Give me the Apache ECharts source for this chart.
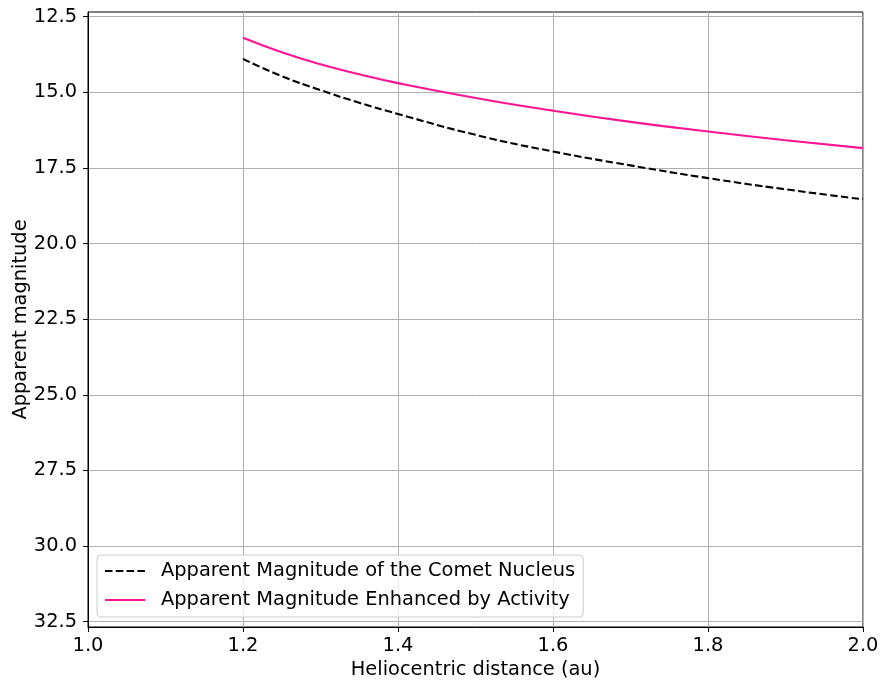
<!DOCTYPE html>
<html lang="en">
<head>
    <meta charset="UTF-8">
    <title>Apparent magnitude vs heliocentric distance</title>
    <script src="https://cdn.jsdelivr.net/npm/echarts@6/dist/echarts.min.js"></script>
    <style>
        * {
            margin: 0;
            padding: 0
        }

        html, body {
            width: 100%;
            height: 100%;
            background: #fff;
        }

        #main {
            width: 888px;
            height: 690px;
        }
    </style>
</head>
<body>
<div id="main"></div>
<script type="text/javascript">
    // heliocentric distance (au)
    var distances = [1.2, 1.25, 1.3, 1.35, 1.4, 1.5, 1.6, 1.7, 1.8, 1.9, 2.0];
    // nucleus only
    var nucleusMag = [13.90, 14.47, 14.93, 15.35, 15.72, 16.41, 16.96, 17.42, 17.84, 18.21, 18.54];
    // with activity
    var activeMag = [13.20, 13.68, 14.08, 14.41, 14.70, 15.19, 15.61, 15.98, 16.30, 16.59, 16.85];
    var magTicks = [12.5, 15.0, 17.5, 20.0, 22.5, 25.0, 27.5, 30.0, 32.5];

    var seriesNames = ['Apparent Magnitude of the Comet Nucleus', 'Apparent Magnitude Enhanced by Activity'];

    function pairs(xs, ys) {
        return xs.map(function (x, i) { return [x, ys[i]]; });
    }

    var font = 'DejaVu Sans';
    var fs = 19.4;
    var gridColor = '#b0b0b0';

    var chart = echarts.init(document.getElementById('main'));
    chart.setOption({
        animation: false,
        backgroundColor: '#fff',
        textStyle: {fontFamily: font},
        grid: {
            left: 88, right: 25, top: 12, bottom: 63,
            outerBoundsMode: 'none',
            containLabel: false,
            show: true, borderColor: '#000', borderWidth: 1
        },
        legend: {
            orient: 'vertical',
            left: 97,
            top: 555,
            padding: [5, 8, 6, 7],
            itemGap: 7,
            itemWidth: 40,
            itemHeight: 14,
            backgroundColor: 'rgba(255,255,255,0.8)',
            borderColor: '#cccccc',
            borderWidth: 1,
            borderRadius: 4,
            // hide the marker dot, keep the line
            itemStyle: {color: 'rgba(0,0,0,0)', borderColor: 'rgba(0,0,0,0)', borderWidth: 0},
            textStyle: {
                fontFamily: font, fontSize: fs, color: '#000',
                lineHeight: 22, padding: [0, 0, 0, 11]
            },
            data: seriesNames
        },
        xAxis: {
            type: 'value',
            min: 1.0,
            max: 2.0,
            interval: 0.2,
            name: 'Heliocentric distance (au)',
            nameLocation: 'middle',
            nameGap: 33,
            nameMoveOverlap: false,
            nameTextStyle: {fontFamily: font, fontSize: fs, color: '#000'},
            axisLine: {show: true, lineStyle: {color: '#000', width: 1}},
            axisTick: {show: true, inside: false, length: 5, lineStyle: {color: '#000'}},
            axisLabel: {
                fontFamily: font, fontSize: fs, color: '#000', margin: 9,
                formatter: function (v) { return v.toFixed(1); }
            },
            splitLine: {show: true, lineStyle: {color: gridColor, width: 1}}
        },
        yAxis: {
            type: 'value',
            inverse: true,
            min: 12.35,
            max: 32.675,
            name: 'Apparent magnitude',
            nameLocation: 'middle',
            nameGap: 58,
            nameMoveOverlap: false,
            nameTextStyle: {fontFamily: font, fontSize: fs, color: '#000'},
            axisLine: {show: true, lineStyle: {color: '#000', width: 1}},
            axisTick: {show: true, inside: false, length: 5, lineStyle: {color: '#000'}, customValues: magTicks},
            axisLabel: {
                fontFamily: font, fontSize: fs, color: '#000', margin: 11,
                customValues: magTicks,
                formatter: function (v) { return v.toFixed(1); }
            },
            splitLine: {show: true, lineStyle: {color: gridColor, width: 1}}
        },
        series: [
            {
                name: seriesNames[0],
                type: 'line',
                smooth: true,
                symbol: 'none',
                lineStyle: {color: '#000', width: 2.1, type: [7.5, 3.3]},
                itemStyle: {color: '#000'},
                data: pairs(distances, nucleusMag)
            },
            {
                name: seriesNames[1],
                type: 'line',
                smooth: true,
                symbol: 'none',
                lineStyle: {color: '#ff1493', width: 2.1},
                itemStyle: {color: '#ff1493'},
                data: pairs(distances, activeMag)
            }
        ]
    });
</script>

</body>
</html>
